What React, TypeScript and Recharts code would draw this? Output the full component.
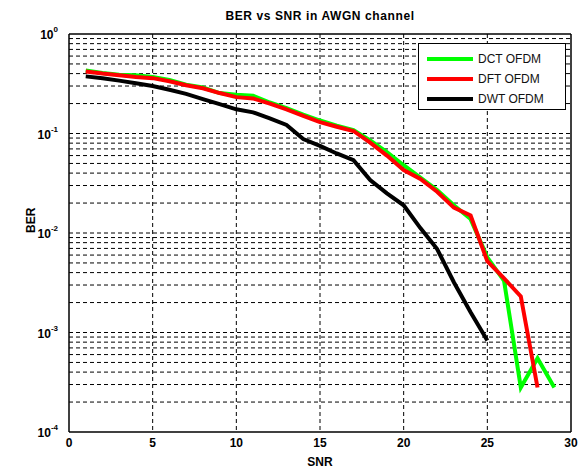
import { LineChart, Line, XAxis, YAxis, CartesianGrid, ReferenceLine } from 'recharts';

const snrDct = [1, 2, 3, 4, 5, 6, 7, 8, 9, 10, 11, 12, 13, 14, 15, 16, 17, 18, 19, 20, 21, 22, 23, 24, 25, 26, 27, 28, 29];
const berDct = [0.43, 0.405, 0.39, 0.385, 0.37, 0.345, 0.31, 0.29, 0.255, 0.245, 0.24, 0.205, 0.18, 0.155, 0.135, 0.12, 0.108, 0.085, 0.065, 0.048, 0.036, 0.027, 0.019, 0.0138, 0.0057, 0.0033, 0.00028, 0.00055, 0.00028];

const snrDft = [1, 2, 3, 4, 5, 6, 7, 8, 9, 10, 11, 12, 13, 14, 15, 16, 17, 18, 19, 20, 21, 22, 23, 24, 25, 26, 27, 28];
const berDft = [0.42, 0.4, 0.385, 0.37, 0.36, 0.335, 0.305, 0.285, 0.255, 0.232, 0.225, 0.2, 0.175, 0.15, 0.13, 0.117, 0.106, 0.081, 0.06, 0.043, 0.035, 0.026, 0.018, 0.015, 0.0052, 0.0035, 0.0023, 0.00028];

const snrDwt = [1, 2, 3, 4, 5, 6, 7, 8, 9, 10, 11, 12, 13, 14, 15, 16, 17, 18, 19, 20, 21, 22, 23, 24, 25];
const berDwt = [0.375, 0.36, 0.34, 0.32, 0.3, 0.275, 0.25, 0.222, 0.197, 0.175, 0.163, 0.142, 0.122, 0.088, 0.075, 0.063, 0.054, 0.034, 0.025, 0.019, 0.0112, 0.0069, 0.0032, 0.0016, 0.00083];

const xTicks = [0, 5, 10, 15, 20, 25, 30];
const yTicks = [1e-4, 1e-3, 1e-2, 1e-1, 1];
const yExponents = ['-4', '-3', '-2', '-1', '0'];
const yGrid = [2e-4, 3e-4, 4e-4, 5e-4, 6e-4, 7e-4, 8e-4, 9e-4, 1e-3, 2e-3, 3e-3, 4e-3, 5e-3, 6e-3, 7e-3, 8e-3, 9e-3, 1e-2, 2e-2, 3e-2, 4e-2, 5e-2, 6e-2, 7e-2, 8e-2, 9e-2, 1e-1, 2e-1, 3e-1, 4e-1, 5e-1, 6e-1, 7e-1, 8e-1, 9e-1];

const series = [
  { name: 'DCT OFDM', x: snrDct, y: berDct, color: '#00ff00' },
  { name: 'DFT OFDM', x: snrDft, y: berDft, color: '#ff0000' },
  { name: 'DWT OFDM', x: snrDwt, y: berDwt, color: '#000000' },
];

const font = '"Liberation Sans", Arial, sans-serif';

function YTick({ x, y, payload }: any) {
  const idx = yTicks.indexOf(payload.value);
  return (
    <text x={x - 3} y={y + 5} textAnchor="end" fontFamily={font} fontWeight="bold" fontSize={12} fill="#000">
      10
      <tspan dy={-7} fontSize={8}>{yExponents[idx]}</tspan>
    </text>
  );
}

function LegendBox() {
  return (
    <div style={{ position: 'absolute', left: 418, top: 43, width: 148, height: 67, border: '1px solid #000', background: '#fff', boxSizing: 'border-box', padding: '5px 0 0 8px', fontFamily: font, fontSize: 12 }}>
      {series.map((s) => (
        <div key={s.name} style={{ display: 'flex', alignItems: 'center', height: 20 }}>
          <div style={{ width: 46, height: 4, background: s.color, marginRight: 5 }} />
          <span style={{ color: '#111' }}>{s.name}</span>
        </div>
      ))}
    </div>
  );
}

export default function App() {
  return (
    <div style={{ position: 'absolute', left: 0, top: 0, width: 584, height: 468, background: '#fff' }}>
      <LineChart width={584} height={468} margin={{ top: 34, right: 13, bottom: 0, left: 9 }}>
        <CartesianGrid stroke="#000" strokeDasharray="4 3" horizontal={false} verticalValues={[5, 10, 15, 20, 25]} />
        <XAxis
          type="number"
          dataKey="x"
          domain={[0, 30]}
          ticks={xTicks}
          height={36}
          stroke="#000"
          strokeWidth={1.5}
          tickLine={false}
          tick={{ fill: '#000', fontFamily: font, fontWeight: 'bold', fontSize: 12, dy: -2 }}
          allowDataOverflow
          label={{ value: 'SNR', position: 'insideBottom', offset: 2, fill: '#000', fontFamily: font, fontWeight: 'bold', fontSize: 12 }}
        />
        <YAxis
          type="number"
          scale="log"
          domain={[1e-4, 1]}
          ticks={yTicks}
          width={60}
          stroke="#000"
          strokeWidth={1.5}
          tickLine={false}
          tick={<YTick />}
          allowDataOverflow
          label={{ value: 'BER', angle: -90, position: 'insideLeft', offset: 22, fill: '#000', fontFamily: font, fontWeight: 'bold', fontSize: 12 }}
        />
        {yGrid.map((v) => (
          <ReferenceLine key={v} y={v} stroke="#000" strokeDasharray="4 3" />
        ))}
        <ReferenceLine y={1} stroke="#000" strokeWidth={1.5} />
        <ReferenceLine x={30} stroke="#000" strokeWidth={1.5} />
        {series.map((s) => (
          <Line
            key={s.name}
            name={s.name}
            data={s.x.map((v, i) => ({ x: v, y: s.y[i] }))}
            dataKey="y"
            stroke={s.color}
            strokeWidth={4}
            dot={false}
            isAnimationActive={false}
          />
        ))}
        <text x={320} y={20} textAnchor="middle" fontFamily={font} fontWeight="bold" fontSize={12} letterSpacing={0.6} fill="#000">
          BER vs SNR in AWGN channel
        </text>
      </LineChart>
      <LegendBox />
    </div>
  );
}
